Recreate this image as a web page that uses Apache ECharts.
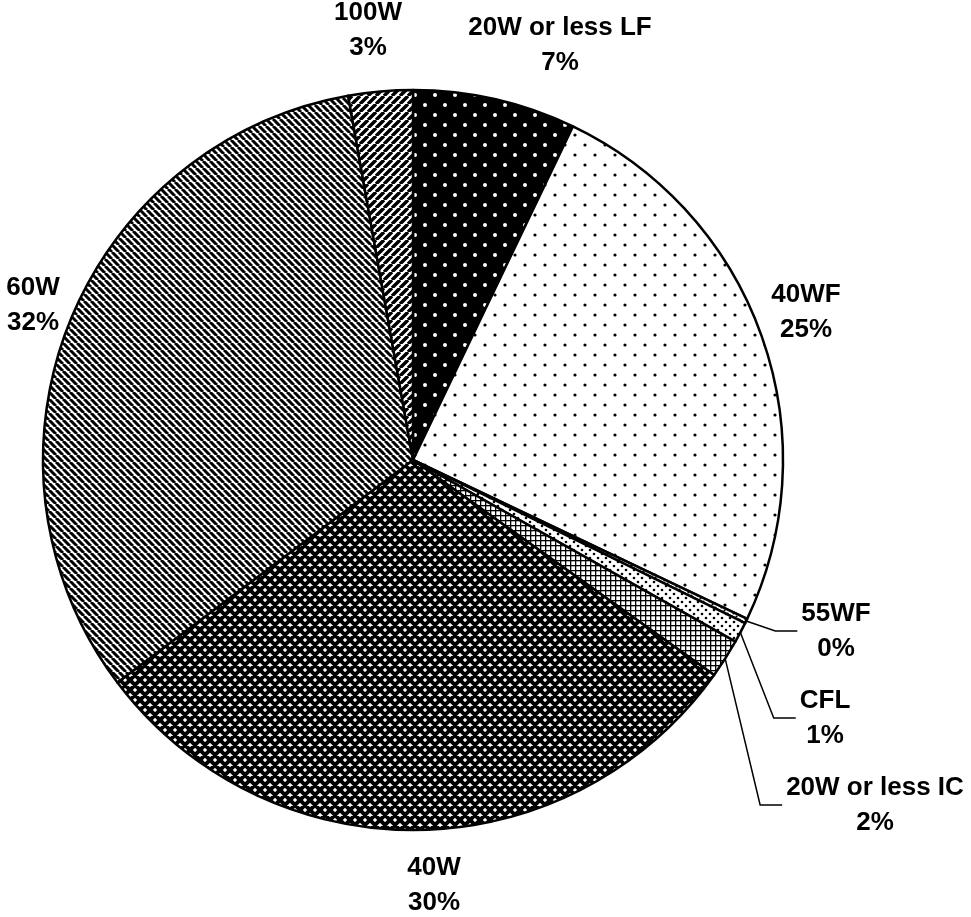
<!DOCTYPE html>
<html>
<head>
<meta charset="utf-8">
<title>Lamp types</title>
<script src="https://cdn.jsdelivr.net/npm/echarts@6/dist/echarts.min.js"></script>
<style>
  html, body { margin: 0; padding: 0; background: #fff; }
  #chart { width: 971px; height: 917px; }
</style>
</head>
<body>
<div id="chart"></div>
<script>
// Share of installed lamps by type (percent)
const lampTypes = ['20W or less LF', '40WF', '55WF', 'CFL', '20W or less IC', '40W', '60W', '100W'];
const lampShares = [7.1, 24.9, 0.2, 0.9, 1.7, 29.8, 32.4, 2.8];

// Small slices whose labels sit outside with a leader line
const leaderTypes = ['55WF', 'CFL', '20W or less IC'];

// Label block centres (px)
const labelAnchors = [
  [560, 45], [806, 312], [836, 631], [825, 718],
  [875, 805], [434, 885], [33, 305], [368, 30]
];

// Monochrome fill patterns drawn on small canvas tiles
function tile(w, h, draw) {
  const c = document.createElement('canvas');
  c.width = w; c.height = h;
  const ctx = c.getContext('2d');
  draw(ctx, w, h);
  return { image: c, repeat: 'repeat' };
}
function dots(bg, fg, s, r) {
  return tile(s, s, (ctx) => {
    ctx.fillStyle = bg; ctx.fillRect(0, 0, s, s);
    ctx.fillStyle = fg;
    [[s / 4, s / 4], [3 * s / 4, 3 * s / 4]].forEach(([x, y]) => {
      ctx.beginPath(); ctx.arc(x, y, r, 0, Math.PI * 2); ctx.fill();
    });
  });
}
function stripes(s, lw, dir) {
  return tile(s, s, (ctx) => {
    ctx.fillStyle = '#fff'; ctx.fillRect(0, 0, s, s);
    ctx.strokeStyle = '#000'; ctx.lineWidth = lw;
    ctx.beginPath();
    for (let k = -1; k <= 1; k++) {
      if (dir > 0) { ctx.moveTo(k * s, s); ctx.lineTo(k * s + s, 0); }
      else { ctx.moveTo(k * s, 0); ctx.lineTo(k * s + s, s); }
    }
    ctx.stroke();
  });
}
const grid = tile(5, 5, (ctx) => {
  ctx.fillStyle = '#fff'; ctx.fillRect(0, 0, 5, 5);
  ctx.fillStyle = '#000';
  ctx.fillRect(0, 0, 5, 1.3); ctx.fillRect(0, 0, 1.3, 5);
});
const crossHatch = tile(10, 10, (ctx) => {
  ctx.fillStyle = '#fff'; ctx.fillRect(0, 0, 10, 10);
  ctx.strokeStyle = '#000'; ctx.lineWidth = 4;
  ctx.beginPath();
  for (let k = -1; k <= 1; k++) {
    ctx.moveTo(k * 10, 0); ctx.lineTo(k * 10 + 10, 10);
    ctx.moveTo(k * 10, 10); ctx.lineTo(k * 10 + 10, 0);
  }
  ctx.stroke();
});

const fills = [
  dots('#000', '#fff', 20, 2),      // 20W or less LF
  dots('#fff', '#000', 20, 1.6),    // 40WF
  dots('#fff', '#000', 6, 1.1),     // 55WF
  dots('#fff', '#000', 8, 1.3),     // CFL
  grid,                             // 20W or less IC
  crossHatch,                       // 40W
  stripes(7, 3, -1),                // 60W
  stripes(8, 3.4, 1)                // 100W
];

const data = lampTypes.map((name, i) => ({
  name,
  value: lampShares[i],
  itemStyle: { color: fills[i] },
  labelLine: { show: leaderTypes.includes(name) }
}));

const chart = echarts.init(document.getElementById('chart'), null, { renderer: 'canvas' });
chart.setOption({
  animation: false,
  backgroundColor: '#fff',
  series: [{
    type: 'pie',
    center: [413, 460],
    radius: 370,
    startAngle: 90,
    clockwise: true,
    percentPrecision: 0,
    avoidLabelOverlap: false,
    data,
    itemStyle: { borderColor: '#000', borderWidth: 2.5 },
    label: {
      show: true,
      position: 'outside',
      formatter: '{b}\n{d}%',
      color: '#000',
      fontFamily: "'Liberation Sans', Arial, sans-serif",
      fontWeight: 'bold',
      fontSize: 26,
      lineHeight: 35,
      align: 'center'
    },
    labelLine: {
      show: true,
      length: 10,
      length2: 10,
      lineStyle: { color: '#000', width: 1.5 }
    },
    emphasis: { disabled: true },
    labelLayout: function (params) {
      const i = params.dataIndex;
      const a = labelAnchors[i];
      const out = { x: a[0], y: a[1], align: 'center', verticalAlign: 'middle' };
      if (leaderTypes.includes(lampTypes[i]) && params.labelLinePoints) {
        const left = a[0] - params.labelRect.width / 2;
        out.labelLinePoints = [
          params.labelLinePoints[0],
          [left - 26, a[1]],
          [left - 4, a[1]]
        ];
      }
      return out;
    }
  }]
});
</script>
</body>
</html>
